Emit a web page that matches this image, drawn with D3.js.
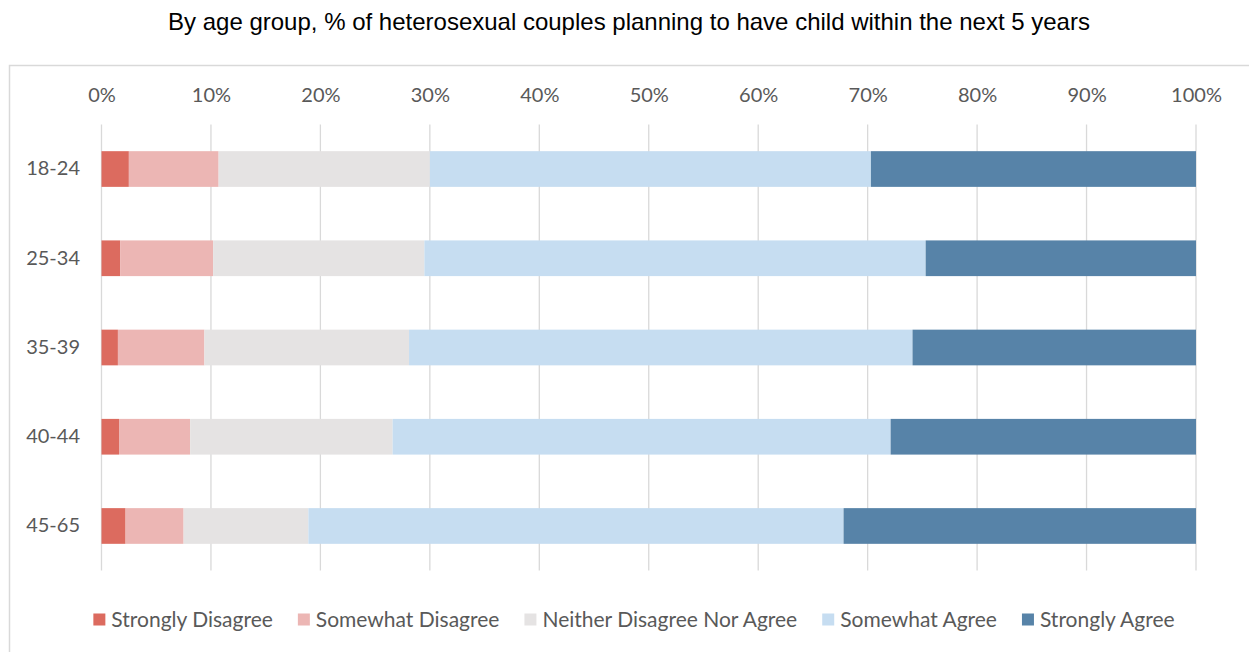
<!DOCTYPE html>
<html>
<head>
<meta charset="utf-8">
<script src="https://cdn.jsdelivr.net/npm/d3@7"></script>
<style>
  html, body { margin: 0; padding: 0; background: #ffffff; }
  svg { display: block; }
</style>
</head>
<body>
<svg id="chart" width="1249" height="652"></svg>
<script>
const title = "By age group, % of heterosexual couples planning to have child within the next 5 years";
const categories = ["18-24", "25-34", "35-39", "40-44", "45-65"];
const seriesNames = ["Strongly Disagree", "Somewhat Disagree", "Neither Disagree Nor Agree", "Somewhat Agree", "Strongly Agree"];
const stronglyDisagree = [2.5, 1.7, 1.5, 1.6, 2.2];
const somewhatDisagree = [8.2, 8.5, 7.9, 6.5, 5.3];
const neither = [19.3, 19.3, 18.7, 18.5, 11.4];
const somewhatAgree = [40.3, 45.8, 46.0, 45.5, 48.9];
const stronglyAgree = [29.7, 24.7, 25.9, 27.9, 32.2];
const tickValues = [0, 10, 20, 30, 40, 50, 60, 70, 80, 90, 100];
const colors = ["#dc6b5f", "#ecb6b4", "#e5e3e3", "#c6ddf1", "#5783a8"];

const seriesValues = [stronglyDisagree, somewhatDisagree, neither, somewhatAgree, stronglyAgree];
const rows = categories.map((c, i) => {
  const r = { category: c };
  seriesNames.forEach((s, j) => { r[s] = seriesValues[j][i]; });
  return r;
});
const stacked = d3.stack().keys(seriesNames)(rows);

const svg = d3.select("#chart");
const textColor = "#595959";
const font = "Lato, 'Open Sans', sans-serif";

// frame
svg.append("rect")
  .attr("x", 9.5).attr("y", 65.5)
  .attr("width", 1300).attr("height", 700)
  .attr("fill", "none").attr("stroke", "#d9d9d9").attr("stroke-width", 1.5);

// title
svg.append("text")
  .attr("x", 629).attr("y", 29.5)
  .attr("text-anchor", "middle")
  .attr("font-family", "'Liberation Sans', Arial, sans-serif")
  .attr("font-size", 24)
  .attr("fill", "#000")
  .text(title);

const x = d3.scaleLinear().domain([0, 100]).range([101.5, 1196]);
const y = d3.scaleBand().domain(categories).range([124.4, 570.6]).paddingInner(0.6).paddingOuter(0.3);

// gridlines
svg.append("g")
  .selectAll("line")
  .data(tickValues)
  .join("line")
  .attr("x1", d => x(d)).attr("x2", d => x(d))
  .attr("y1", 124.4).attr("y2", 570.6)
  .attr("stroke", "#d9d9d9").attr("stroke-width", 1.3);

// top axis labels
const xAxis = d3.axisTop(x).tickValues(tickValues).tickFormat(d => d + "%").tickSize(0).tickPadding(0);
const gx = svg.append("g").attr("transform", "translate(0,101.5)").call(xAxis);
gx.select(".domain").remove();
gx.selectAll("text")
  .attr("font-family", font).attr("font-size", 20)
  .attr("fill", textColor).attr("dy", 0);

// y axis labels
const yAxis = d3.axisLeft(y).tickSize(0).tickPadding(0);
const gy = svg.append("g").attr("transform", "translate(80,0)").call(yAxis);
gy.select(".domain").remove();
gy.selectAll("text")
  .attr("font-family", font).attr("font-size", 20)
  .attr("fill", textColor);

// bars
svg.append("g")
  .selectAll("g")
  .data(stacked)
  .join("g")
  .attr("fill", (d, i) => colors[i])
  .selectAll("rect")
  .data(d => d)
  .join("rect")
  .attr("x", d => x(d[0]))
  .attr("width", d => x(d[1]) - x(d[0]))
  .attr("y", d => y(d.data.category))
  .attr("height", y.bandwidth());

// legend
const legend = svg.append("g");
const items = legend.selectAll("g").data(seriesNames).join("g");
items.append("rect")
  .attr("width", 12).attr("height", 12)
  .attr("y", -6)
  .attr("fill", (d, i) => colors[i]);
items.append("text")
  .attr("x", 18).attr("y", 0).attr("dy", "0.35em")
  .attr("font-family", font).attr("font-size", 21)
  .attr("fill", textColor)
  .text(d => d);
let cur = 0;
const gap = 25;
items.each(function () {
  const w = 18 + this.querySelector("text").getComputedTextLength();
  d3.select(this).attr("data-off", cur);
  cur += w + gap;
});
const total = cur - gap;
const start = 634 - total / 2;
items.attr("transform", function () { return `translate(${start + +this.getAttribute("data-off")},619.5)`; });
</script>
</body>
</html>
